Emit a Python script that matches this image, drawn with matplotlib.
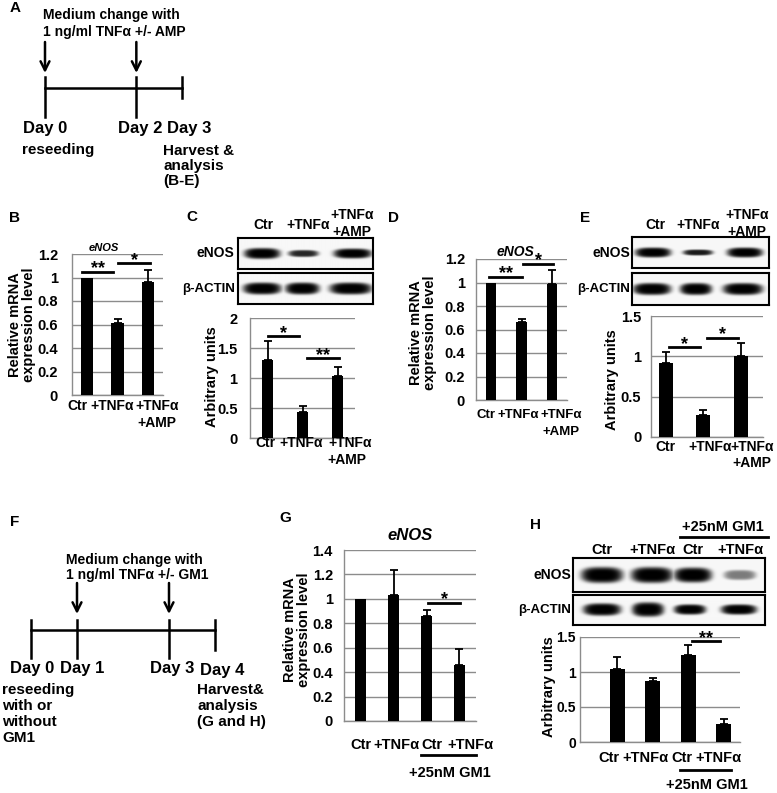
import matplotlib
matplotlib.use("Agg")
import matplotlib.pyplot as plt
import numpy as np

plt.rcParams["font.family"] = ["Liberation Sans", "DejaVu Sans"]
plt.rcParams["font.weight"] = "bold"

W, H = 777, 793

# ---- bar chart data (value, upper SEM) ----
b_vals = [1.0, 0.61, 0.96]
b_sem = [0.0, 0.04, 0.10]
c_vals = [1.30, 0.44, 1.04]
c_sem = [0.31, 0.09, 0.14]
d_vals = [1.0, 0.66, 0.99]
d_sem = [0.0, 0.03, 0.12]
e_vals = [0.92, 0.27, 1.01]
e_sem = [0.13, 0.07, 0.15]
g_vals = [1.0, 1.03, 0.86, 0.46]
g_sem = [0.0, 0.21, 0.05, 0.13]
h_vals = [1.04, 0.87, 1.24, 0.26]
h_sem = [0.17, 0.05, 0.15, 0.07]

# significance brackets: (from, to, height, label)
b_sig = [(-0.16, 0.85, 1.05, "**"), (1.02, 2.07, 1.12, "*")]
c_sig = [(0.0, 0.9, 1.70, "*"), (1.13, 2.04, 1.33, "**")]
d_sig = [(-0.07, 1.02, 1.05, "**"), (1.06, 2.05, 1.16, "*")]
e_sig = [(0.08, 0.91, 1.11, "*"), (1.10, 1.93, 1.23, "*")]
g_sig = [(2.05, 3.02, 0.97, "*")]
h_sig = [(2.10, 2.89, 1.44, "**")]

# labels
amp_labels = ["Ctr", "+TNFα", "+TNFα"]
gm1_labels = ["Ctr", "+TNFα", "Ctr", "+TNFα"]

# timelines (days)
a_days = [0, 2, 3]
a_arrows = [0, 2]
f_days = [0, 1, 3, 4]
f_arrows = [1, 3]

# blot bands: lane centre (px in box), half width, strength, half thickness
c_enos = dict(x=[24, 65, 114], w=[18, 15, 19], s=[1.0, 0.85, 1.0], h=[5.5, 3.5, 5.0])
c_actin = dict(x=[24, 64, 112], w=[19, 17, 21], s=[1.0, 1.0, 1.0], h=[6.0, 6.0, 6.0])
e_enos = dict(x=[21, 66, 113], w=[18, 15, 18], s=[1.0, 0.9, 1.0], h=[5.0, 3.0, 5.0])
e_actin = dict(x=[20, 64, 111], w=[19, 16, 20], s=[1.0, 1.0, 1.0], h=[6.0, 6.0, 6.0])
h_enos = dict(x=[29, 79, 120, 167], w=[21, 21, 19, 16], s=[1.0, 1.0, 1.0, 0.5], h=[8.0, 8.0, 7.5, 5.0])
h_actin = dict(x=[29, 75, 117, 166], w=[19, 16, 16, 18], s=[1.0, 1.0, 1.0, 1.0], h=[6.0, 7.0, 5.0, 5.0])

GRID = "#8c8c8c"
FS = 10.5

fig = plt.figure(figsize=(W / 100, H / 100), dpi=100)


def px_axes(x0, y0, x1, y1):
    return fig.add_axes([x0 / W, 1 - y1 / H, (x1 - x0) / W, (y1 - y0) / H])


def bar_panel(rect, vals, sem, ymax, step, xlim, width, sigs, pad, tsize=FS):
    ax = px_axes(*rect)
    ax.set_facecolor("none")
    x = np.arange(len(vals))
    ax.bar(x, vals, width, color="black", zorder=3)
    sem = np.array(sem)
    m = sem > 0
    ax.errorbar(x[m], np.array(vals)[m], yerr=[np.zeros(m.sum()), sem[m]], fmt="none",
                ecolor="black", elinewidth=1.3, capsize=3.2, capthick=1.3, zorder=4)
    ax.set_xlim(*xlim)
    ax.set_ylim(0, ymax)
    ticks = np.round(np.arange(0, ymax + 1e-9, step), 2)
    ax.set_yticks(ticks)
    ax.set_yticklabels([f"{t:g}" for t in ticks])
    ax.yaxis.grid(True, color=GRID, lw=1)
    ax.set_axisbelow(True)
    ax.tick_params(axis="y", length=0, pad=pad, labelsize=tsize)
    ax.set_xticks([])
    for s in ("top", "right"):
        ax.spines[s].set_visible(False)
    for s in ("left", "bottom"):
        ax.spines[s].set_color(GRID)
        ax.spines[s].set_linewidth(1)
    for x0, x1, y, txt in sigs:
        ax.plot([x0, x1], [y, y], color="black", lw=2, clip_on=False, zorder=5)
        ax.annotate(txt, ((x0 + x1) / 2, y), xytext=(0, 2), textcoords="offset points",
                    ha="center", va="center", fontsize=13, annotation_clip=False)
    return ax


def blot(rect, bands):
    x0, y0, x1, y1 = rect
    ax = px_axes(*rect)
    bw, bh = x1 - x0, y1 - y0
    xx, yy = np.meshgrid(np.linspace(0, bw, bw * 4), np.linspace(0, bh, bh * 4))
    img = np.zeros_like(xx)
    for cx, w, s, h in zip(bands["x"], bands["w"], bands["s"], bands["h"]):
        r = (np.abs(xx - cx) / w) ** 3 + (np.abs(yy - bh / 2) / h) ** 2.5
        img = np.maximum(img, s * np.exp(-r ** 2))
    ax.imshow(0.97 - 0.97 * img, cmap="gray", vmin=0, vmax=1, extent=[0, bw, bh, 0],
              aspect="auto", interpolation="bilinear")
    ax.set_xticks([])
    ax.set_yticks([])
    for s in ax.spines.values():
        s.set_linewidth(1.5)
    return ax


# bar charts (rect: left, top, right, bottom in px)
bar_panel((72, 254, 163, 395), b_vals, b_sem, 1.2, 0.2, (-0.5, 2.5), 0.4, b_sig, 10)
bar_panel((250, 318, 355, 438), c_vals, c_sem, 2.0, 0.5, (-0.5, 2.5), 0.33, c_sig, 9)
bar_panel((476, 259, 567, 400), d_vals, d_sem, 1.2, 0.2, (-0.5, 2.5), 0.35, d_sig, 8)
bar_panel((651, 316, 763, 437), e_vals, e_sem, 1.5, 0.5, (-0.4, 2.6), 0.38, e_sig, 7)
bar_panel((344, 550, 476, 721), g_vals, g_sem, 1.4, 0.2, (-0.5, 3.5), 0.36, g_sig, 8)
bar_panel((580, 637, 740, 742), h_vals, h_sem, 1.5, 0.5, (-1.04, 3.45), 0.42, h_sig, 3, 10)

# blots
blot((238, 238, 373, 269), c_enos)
blot((238, 273, 373, 304), c_actin)
blot((632, 237, 769, 268), e_enos)
blot((632, 273, 769, 305), e_actin)
blot((573, 558, 765, 592), h_enos)
blot((573, 595, 765, 625), h_actin)

# overlay in pixel coordinates for schematic and free text
ov = fig.add_axes([0, 0, 1, 1])
ov.set_xlim(0, W)
ov.set_ylim(H, 0)
ov.axis("off")


def t(x, y, s, size=FS, ha="left", va="center", **kw):
    ov.text(x, y, s, fontsize=size, ha=ha, va=va, fontweight="bold", **kw)


def timeline(days, arrows, x0, scale, y_line, y_top, y_bot, y_short, arrow_top, arrow_bot):
    xs = [x0 + d * scale for d in days]
    ov.plot([xs[0], xs[-1]], [y_line, y_line], color="black", lw=1.8)
    for i, x in enumerate(xs):
        yb = y_short if i == len(xs) - 1 else y_bot
        ov.plot([x, x], [y_top, yb], color="black", lw=1.8)
    for d in arrows:
        x = x0 + d * scale
        ov.annotate("", xy=(x, arrow_bot), xytext=(x, arrow_top),
                    arrowprops=dict(arrowstyle="->", lw=1.8, color="black",
                                    mutation_scale=16, shrinkA=0, shrinkB=0))
    return xs


# ---- panel A ----
t(10, 8, "A", 11)
t(43, 15, "Medium change with", 10)
t(43, 32, "1 ng/ml TNFα +/- AMP", 10)
timeline(a_days, a_arrows, 45, 45.67, 88, 77, 117, 98, 42, 73)
for d, xl in zip(a_days, [23, 118, 167]):
    t(xl, 128, f"Day {d}", 12)
t(22, 150, "reseeding", 11)
t(163, 144, "Harvest &\nanalysis\n(B-E)", 11, va="top", linespacing=1.1)

# ---- panel letters ----
t(9, 218, "B", 11)
t(186, 217, "C", 11)
t(388, 218, "D", 11)
t(580, 218, "E", 11)
t(10, 522, "F", 11)
t(279, 518, "G", 11)
t(530, 525, "H", 11)

# ---- B ----
t(104, 248, "eNOS", 8, ha="center", fontstyle="italic")
t(22, 325, "Relative mRNA\nexpression level", FS, ha="center", rotation=90, linespacing=1.0)
for xc, s in zip([77.5, 112, 157], amp_labels):
    t(xc, 406, s, 10, ha="center")
t(157, 423, "+AMP", 10, ha="center")

# ---- C ----
for xc, yc, s in zip([263, 308, 352], [225, 225, 215], amp_labels):
    t(xc, yc, s, 10, ha="center")
t(352, 232, "+AMP", 10, ha="center")
t(234, 253, "eNOS", 10, ha="right")
t(235, 289, "β-ACTIN", 9.5, ha="right")
t(212, 377, "Arbitrary units", FS, ha="center", rotation=90)
for xc, s in zip([265, 301, 350], amp_labels):
    t(xc, 443, s, 10, ha="center")
t(347, 460, "+AMP", 10, ha="center")

# ---- D ----
t(515, 252, "eNOS", 10, ha="center", fontstyle="italic")
t(423, 333, "Relative mRNA\nexpression level", FS, ha="center", rotation=90, linespacing=1.0)
for xc, s in zip([486, 518, 561], amp_labels):
    t(xc, 415, s, 9.5, ha="center")
t(561, 432, "+AMP", 9.5, ha="center")

# ---- E ----
for xc, yc, s in zip([655, 698, 747], [225, 225, 215], amp_labels):
    t(xc, yc, s, 10, ha="center")
t(747, 232, "+AMP", 10, ha="center")
t(630, 253, "eNOS", 10, ha="right")
t(630, 289, "β-ACTIN", 9.5, ha="right")
t(612, 380, "Arbitrary units", FS, ha="center", rotation=90)
for xc, s in zip([665, 710, 752], amp_labels):
    t(xc, 447, s, 10, ha="center")
t(752, 463, "+AMP", 10, ha="center")

# ---- F ----
t(66, 560, "Medium change with", 10)
t(66, 575, "1 ng/ml TNFα +/- GM1", 10)
timeline(f_days, f_arrows, 31, 46, 630, 620, 658, 650, 583, 614)
for d, xc in zip(f_days, [32, 82, 172, 222]):
    t(xc, 668 if d != 4 else 670, f"Day {d}", 12, ha="center")
t(2, 683, "reseeding\nwith or\nwithout\nGM1", 11, va="top", linespacing=1.18)
t(197, 683, "Harvest&\nanalysis\n(G and H)", 11, va="top", linespacing=1.18)

# ---- G ----
t(410, 535, "eNOS", 12, ha="center", fontstyle="italic")
t(297, 630, "Relative mRNA\nexpression level", FS, ha="center", rotation=90, linespacing=1.0)
for xc, s in zip([361, 396, 432, 470], gm1_labels):
    t(xc, 745, s, FS, ha="center")
ov.plot([421, 476], [755, 755], color="black", lw=2)
t(450, 773, "+25nM GM1", FS, ha="center")

# ---- H ----
t(723, 527, "+25nM GM1", 10.5, ha="center")
ov.plot([680, 768], [537, 537], color="black", lw=2)
for xc, s in zip([602, 652, 693, 740], gm1_labels):
    t(xc, 550, s, 10.5, ha="center")
t(571, 575, "eNOS", 10, ha="right")
t(571, 610, "β-ACTIN", 9.5, ha="right")
t(549, 687, "Arbitrary units", FS, ha="center", rotation=90)
for xc, s in zip([609, 645, 682, 718], gm1_labels):
    t(xc, 758, s, FS, ha="center")
ov.plot([680, 731], [770, 770], color="black", lw=2)
t(707, 785, "+25nM GM1", FS, ha="center")

fig.savefig("out.png", dpi=100)
